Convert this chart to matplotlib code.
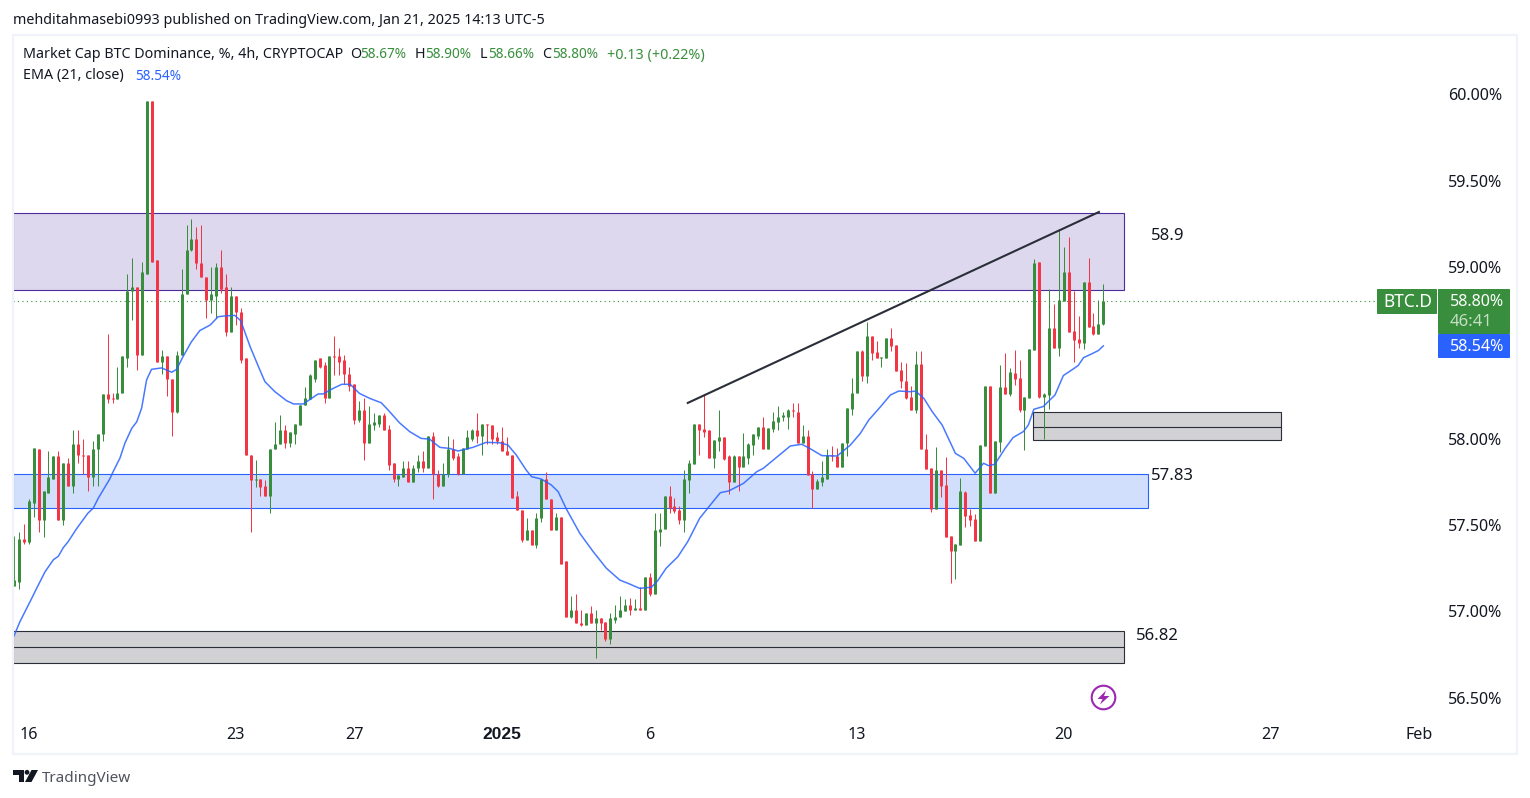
import matplotlib
matplotlib.use('Agg')
import matplotlib.pyplot as plt
from matplotlib.patches import Rectangle, Polygon, Circle, FancyBboxPatch

plt.rcParams['font.family'] = ['Noto Sans', 'DejaVu Sans']

# 4h candles, one row of ten per line
bar_open = [
    57.15, 57.17, 57.42, 57.40, 57.63, 57.94, 57.53, 57.69, 57.77, 57.90,
    57.53, 57.86, 57.73, 57.97, 57.91, 57.91, 57.78, 57.94, 58.03, 58.26,
    58.24, 58.23, 58.27, 58.47, 58.86, 58.88, 58.49, 58.96, 59.96, 59.04,
    58.45, 58.48, 58.35, 58.16, 58.49, 58.84, 59.10, 59.16, 59.02, 58.94,
    58.81, 58.83, 59.00, 58.88, 58.62, 58.83, 58.74, 58.47, 57.91, 57.76,
    57.77, 57.73, 57.67, 57.94, 57.97, 58.05, 57.98, 58.03, 58.08, 58.20,
    58.23, 58.35, 58.47, 58.43, 58.24, 58.48, 58.48, 58.46, 58.38, 58.32,
    58.11, 58.17, 57.98, 58.08, 58.09, 58.14, 58.06, 57.86, 57.77, 57.78,
    57.83, 57.75, 57.83, 57.87, 57.83, 58.02, 57.80, 57.73, 57.80, 57.94,
    57.90, 57.80, 57.94, 58.00, 58.05, 58.02, 58.09, 58.08, 58.01, 57.99,
    57.93, 57.91, 57.67, 57.59, 57.415, 57.47, 57.385, 57.54, 57.77, 57.65,
    57.47, 57.55, 57.29, 56.97, 57.01, 56.93, 56.92, 56.99, 56.93, 56.96,
    56.94, 56.84, 56.95, 56.97, 57.00, 57.04, 57.01, 57.02, 57.01, 57.20,
    57.10, 57.46, 57.48, 57.67, 57.61, 57.59, 57.53, 57.76, 57.855, 58.09,
    58.06, 58.05, 57.89, 57.99, 58.01, 57.90, 57.75, 57.90, 57.84, 57.89,
    57.965, 58.02, 58.07, 57.94, 58.06, 58.10, 58.13, 58.13, 58.17, 58.16,
    57.98, 58.02, 57.80, 57.71, 57.75, 57.77, 57.91, 57.90, 57.84, 57.977,
    58.175, 58.27, 58.51, 58.366, 58.60, 58.505, 58.47, 58.47, 58.587, 58.546,
    58.40, 58.34, 58.244, 58.169, 58.436, 57.942, 57.832, 57.594, 57.82, 57.734,
    57.437, 57.35, 57.385, 57.693, 57.56, 57.536, 57.408, 57.96, 58.308, 57.687,
    57.984, 58.303, 58.262, 58.384, 58.355, 58.17, 58.239, 58.518, 59.028, 58.245,
    58.256, 58.645, 58.53, 58.802, 58.97, 58.628, 58.581, 58.558, 58.912, 58.657,
    58.61, 58.67,
]
bar_high = [
    57.44, 57.46, 57.51, 57.65, 57.95, 57.94, 57.70, 57.93, 57.90, 57.93,
    57.86, 57.89, 58.05, 58.05, 58.00, 57.91, 57.99, 58.03, 58.26, 58.61,
    58.27, 58.42, 58.48, 58.96, 59.05, 58.88, 59.03, 59.96, 59.96, 59.04,
    58.52, 58.48, 58.35, 58.51, 58.99, 59.24, 59.28, 59.23, 59.24, 58.94,
    59.00, 59.02, 59.10, 58.96, 58.88, 58.83, 58.76, 58.47, 57.91, 57.88,
    57.77, 57.76, 57.94, 58.10, 58.14, 58.08, 58.04, 58.09, 58.20, 58.30,
    58.38, 58.46, 58.47, 58.45, 58.48, 58.60, 58.53, 58.49, 58.42, 58.32,
    58.22, 58.24, 58.19, 58.15, 58.14, 58.15, 58.08, 57.86, 57.79, 57.87,
    57.87, 57.85, 57.91, 57.93, 58.02, 58.04, 57.82, 57.86, 58.02, 58.00,
    57.92, 57.95, 58.05, 58.06, 58.15, 58.09, 58.09, 58.08, 58.04, 58.07,
    58.01, 57.91, 57.70, 57.59, 57.54, 57.47, 57.57, 57.77, 57.81, 57.65,
    57.57, 57.55, 57.29, 57.09, 57.10, 57.01, 56.99, 57.03, 57.01, 56.96,
    56.94, 56.99, 57.04, 57.09, 57.07, 57.08, 57.07, 57.14, 57.20, 57.22,
    57.57, 57.57, 57.67, 57.73, 57.66, 57.61, 57.82, 57.88, 58.09, 58.09,
    58.26, 58.05, 57.995, 58.17, 58.01, 57.91, 57.91, 57.90, 58.035, 57.98,
    58.03, 58.07, 58.13, 58.064, 58.16, 58.19, 58.16, 58.175, 58.21, 58.21,
    58.08, 58.05, 57.815, 57.77, 57.87, 57.94, 57.96, 57.95, 57.98, 58.18,
    58.354, 58.51, 58.52, 58.68, 58.60, 58.57, 58.476, 58.587, 58.645, 58.546,
    58.45, 58.44, 58.308, 58.511, 58.511, 58.03, 57.832, 57.954, 57.82, 57.896,
    57.437, 57.39, 57.774, 57.699, 57.594, 57.565, 57.966, 58.308, 58.308, 57.989,
    58.43, 58.50, 58.413, 58.518, 58.46, 58.245, 58.523, 59.046, 59.028, 58.268,
    58.872, 58.785, 59.22, 59.115, 59.173, 58.86, 58.715, 58.912, 59.05, 58.732,
    58.808, 58.90,
]
bar_low = [
    57.15, 57.13, 57.39, 57.39, 57.55, 57.46, 57.43, 57.69, 57.77, 57.53,
    57.50, 57.73, 57.69, 57.86, 57.80, 57.70, 57.73, 57.73, 57.99, 58.21,
    58.21, 58.23, 58.27, 58.42, 58.69, 58.40, 58.49, 58.96, 59.03, 58.45,
    58.38, 58.25, 58.02, 58.15, 58.49, 58.84, 59.09, 58.99, 58.94, 58.70,
    58.73, 58.70, 58.85, 58.60, 58.62, 58.66, 58.44, 57.91, 57.46, 57.72,
    57.67, 57.67, 57.57, 57.94, 57.97, 57.95, 57.955, 57.97, 58.08, 58.20,
    58.23, 58.33, 58.41, 58.21, 58.24, 58.37, 58.37, 58.32, 58.28, 58.09,
    58.10, 57.88, 57.98, 58.05, 58.07, 58.05, 57.82, 57.75, 57.73, 57.78,
    57.75, 57.75, 57.81, 57.81, 57.83, 57.65, 57.72, 57.73, 57.78, 57.88,
    57.79, 57.80, 57.94, 57.99, 57.98, 57.91, 57.97, 57.97, 57.97, 57.93,
    57.91, 57.66, 57.59, 57.40, 57.415, 57.385, 57.37, 57.52, 57.65, 57.47,
    57.47, 57.275, 56.97, 56.96, 56.93, 56.915, 56.92, 56.93, 56.73, 56.89,
    56.83, 56.81, 56.93, 56.97, 57.00, 56.98, 57.01, 57.01, 57.01, 57.09,
    57.10, 57.38, 57.48, 57.57, 57.57, 57.51, 57.46, 57.69, 57.855, 57.91,
    58.01, 57.89, 57.83, 57.93, 57.88, 57.68, 57.75, 57.70, 57.84, 57.855,
    57.91, 58.00, 57.94, 57.94, 58.04, 58.05, 58.105, 58.06, 58.13, 57.98,
    57.98, 57.79, 57.60, 57.71, 57.73, 57.77, 57.87, 57.84, 57.84, 57.90,
    58.14, 58.27, 58.34, 58.325, 58.46, 58.47, 58.42, 58.47, 58.51, 58.395,
    58.296, 58.23, 58.169, 58.15, 57.942, 57.826, 57.577, 57.594, 57.664, 57.432,
    57.165, 57.188, 57.385, 57.49, 57.496, 57.408, 57.408, 57.96, 57.687, 57.687,
    57.926, 58.262, 58.25, 58.315, 58.158, 57.937, 58.239, 58.518, 58.239, 58.00,
    58.175, 58.53, 58.483, 58.802, 58.622, 58.448, 58.529, 58.523, 58.651, 58.605,
    58.61, 58.66,
]
bar_close = [
    57.18, 57.42, 57.40, 57.64, 57.95, 57.53, 57.70, 57.78, 57.90, 57.53,
    57.86, 57.73, 57.97, 57.91, 57.90, 57.78, 57.94, 58.03, 58.26, 58.23,
    58.23, 58.27, 58.48, 58.86, 58.88, 58.49, 58.97, 59.96, 59.03, 58.45,
    58.48, 58.35, 58.16, 58.49, 58.84, 59.10, 59.16, 59.02, 58.94, 58.81,
    58.84, 59.00, 58.87, 58.62, 58.83, 58.74, 58.46, 57.91, 57.76, 57.77,
    57.72, 57.67, 57.94, 57.97, 58.05, 57.98, 58.04, 58.09, 58.20, 58.24,
    58.37, 58.46, 58.42, 58.24, 58.48, 58.475, 58.45, 58.38, 58.31, 58.11,
    58.17, 57.98, 58.09, 58.10, 58.14, 58.05, 57.85, 57.77, 57.79, 57.83,
    57.75, 57.83, 57.87, 57.83, 58.02, 57.80, 57.73, 57.80, 57.94, 57.89,
    57.80, 57.95, 58.01, 58.05, 58.02, 58.09, 58.08, 58.00, 57.99, 57.93,
    57.91, 57.66, 57.59, 57.415, 57.47, 57.385, 57.54, 57.77, 57.65, 57.47,
    57.55, 57.275, 56.97, 57.01, 56.93, 56.92, 56.99, 56.93, 56.96, 56.93,
    56.84, 56.96, 56.97, 57.01, 57.04, 57.01, 57.02, 57.01, 57.20, 57.10,
    57.47, 57.48, 57.67, 57.60, 57.58, 57.53, 57.77, 57.86, 58.09, 58.05,
    58.04, 57.89, 57.995, 58.01, 57.885, 57.75, 57.90, 57.84, 57.90, 57.97,
    58.03, 58.07, 57.94, 58.064, 58.105, 58.13, 58.14, 58.17, 58.165, 57.98,
    58.018, 57.79, 57.71, 57.755, 57.78, 57.91, 57.90, 57.84, 57.98, 58.18,
    58.27, 58.51, 58.366, 58.60, 58.50, 58.47, 58.476, 58.587, 58.54, 58.395,
    58.337, 58.238, 58.169, 58.436, 57.942, 57.826, 57.594, 57.82, 57.728, 57.432,
    57.35, 57.39, 57.699, 57.553, 57.53, 57.408, 57.966, 58.308, 57.687, 57.989,
    58.303, 58.262, 58.39, 58.349, 58.17, 58.245, 58.523, 59.022, 58.245, 58.262,
    58.645, 58.53, 58.808, 58.97, 58.622, 58.576, 58.558, 58.912, 58.651, 58.61,
    58.668, 58.80,
]

# EMA(21) read at the bends of the line: bar number and value
ema_bar = [
    0, 1.2, 3.6, 4.6, 6.3, 8, 9, 10, 11, 12.7, 15, 16.1, 17.1, 19.4, 20.1, 21.5,
    22.5, 23.9, 24.9, 25.9, 26.9, 27.9, 29.95, 32, 33, 34.3, 36, 37.7, 39.8, 41.4,
    42.8, 44.8, 46, 47.9, 49.9, 50.9, 52.9, 55.3, 56.7, 58.7, 60.4, 61.7, 62.7,
    64.8, 66.5, 68.2, 70.1, 72.2, 74.5, 75.9, 78.2, 80.3, 82.6, 84.3, 86.4, 88.4,
    90.1, 93.1, 95.8, 98.5, 100.2, 101.9, 103.9, 105, 107, 109, 110.4, 112, 114.8,
    117.5, 120.2, 122.9, 124.9, 126.9, 129.3, 130.6, 132.3, 134.7, 136.7, 139.1,
    141, 143.3, 145, 148, 150.7, 152, 157.5, 159.8, 161.2, 163.9, 167, 169.7,
    171.7, 173.4, 175.8, 177.8, 179.5, 181.9, 182.9, 184.6, 186.3, 188.3, 191,
    192.7, 195, 196.7, 197.7, 199, 201.1, 202.7, 204.8, 205.8, 206.9, 208.8,
    211.2, 212.9, 214.9, 215.9, 217, 218.6, 220, 221,
]
ema_value = [
    56.857, 56.94, 57.076, 57.134, 57.23, 57.30, 57.32, 57.37, 57.405, 57.48, 57.57, 57.60,
    57.657, 57.767, 57.81, 57.89, 57.976, 58.063, 58.10, 58.18, 58.343, 58.405, 58.413,
    58.388, 58.405, 58.479, 58.565, 58.63, 58.662, 58.71, 58.715, 58.718, 58.687, 58.537,
    58.40, 58.334, 58.276, 58.223, 58.204, 58.204, 58.237, 58.262, 58.262, 58.295, 58.318,
    58.318, 58.265, 58.236, 58.211, 58.169, 58.095, 58.043, 58.004, 58.0, 57.952, 57.946,
    57.931, 57.952, 57.981, 57.979, 57.966, 57.908, 57.821, 57.782, 57.768, 57.734, 57.695,
    57.598, 57.453, 57.347, 57.25, 57.182, 57.159, 57.134, 57.14, 57.178, 57.25, 57.318,
    57.405, 57.54, 57.608, 57.689, 57.699, 57.743, 57.811, 57.83, 57.96, 57.97, 57.95,
    57.904, 57.902, 57.966, 58.033, 58.11, 58.188, 58.256, 58.279, 58.275, 58.279, 58.236,
    58.159, 58.082, 57.917, 57.888, 57.802, 57.86, 57.846, 57.854, 57.947, 58.009, 58.044,
    58.082, 58.173, 58.189, 58.256, 58.369, 58.407, 58.427, 58.473, 58.494, 58.514, 58.541,
]

# drawn zones: first bar, last bar, low, high
zone_purple = (-0.2, 225.2, 58.868, 59.312)
zone_blue = (-0.2, 230.1, 57.603, 57.80)
zone_grey_low = (-0.2, 225.2, 56.70, 56.889)
zone_grey_mid = 56.793
zone_grey_small = (206.7, 257, 57.992, 58.157)
zone_grey_small_mid = 58.073
trend_bars = [136.7, 220.1]
trend_values = [58.21, 59.318]

price_ticks = [56.5, 57.0, 57.5, 58.0, 58.5, 59.0, 59.5, 60.0]
price_labels = ['56.50%', '57.00%', '57.50%', '58.00%', '', '59.00%', '59.50%', '60.00%']
day_ticks = [3, 45, 69, 99, 129, 171, 213, 255, 285]
day_labels = ['16', '23', '27', '2025', '6', '13', '20', '27', 'Feb']
last_close = 58.80

UP = '#388e3c'
DOWN = '#f23645'
BLUE = '#2962ff'
INK = '#131722'
W, H = 1530, 798


def fx(px):
    return px / W


def fy(py):
    return 1 - py / H


fig = plt.figure(figsize=(W / 100, H / 100), dpi=100)
fig.patch.set_facecolor('white')

# outer panel frame
fig.add_artist(Rectangle((fx(13), fy(753.5)), (1517 - 13) / W, (753.5 - 34.5) / H,
                         transform=fig.transFigure, fill=False, ec='#f0f3fa', lw=1.6))

ax = fig.add_axes([fx(13), fy(717), (1437 - 13) / W, (717 - 36) / H])
ax.set_xlim(-0.2, 288.7)
ax.set_ylim(60 - (717 - 94.5) / 172.3, 60 + (94.5 - 36) / 172.3)
ax.patch.set_alpha(0)
for s in ax.spines.values():
    s.set_visible(False)


def zone(z, fc, ec):
    x0, x1, lo, hi = z
    ax.add_patch(Rectangle((x0, lo), x1 - x0, hi - lo, fc=fc, ec=ec, lw=0.8, zorder=1))


zone(zone_purple, '#ddd8ee', '#4a2c9c')
zone(zone_blue, '#d1dffd', BLUE)
zone(zone_grey_low, '#d2d2d5', '#2a2e39')
zone(zone_grey_small, '#d2d2d5', '#2a2e39')
ax.plot(zone_grey_low[:2], [zone_grey_mid] * 2, color='#2a2e39', lw=0.8, zorder=1.5)
ax.plot(zone_grey_small[:2], [zone_grey_small_mid] * 2, color='#2a2e39', lw=0.8, zorder=1.5)

ax.axhline(last_close, color=UP, lw=0.8, ls=(0, (1, 3)), zorder=1.8)

bars = range(len(bar_open))
colors = [UP if c >= o else DOWN for o, c in zip(bar_open, bar_close)]
ax.vlines(bars, bar_low, bar_high, colors=colors, lw=0.72, zorder=3)
# bodies as thick vertical lines so every one keeps the same pixel width
ax.vlines(bars, [min(o, c) for o, c in zip(bar_open, bar_close)],
          [max(o, c) for o, c in zip(bar_open, bar_close)],
          colors=colors, lw=2.16, capstyle='butt', zorder=3)

ax.plot(ema_bar, ema_value, color=BLUE, lw=1.1, alpha=0.85, zorder=4)
ax.plot(trend_bars, trend_values, color='#2a2e39', lw=1.5, zorder=5)

ax.text(230.7, 59.18, '58.9', fontsize=12, color=INK, va='center')
ax.text(230.7, 57.785, '57.83', fontsize=12, color=INK, va='center')
ax.text(227.7, 56.855, '56.82', fontsize=12, color=INK, va='center')

ax.yaxis.tick_right()
ax.set_yticks(price_ticks)
ax.set_yticklabels(price_labels, fontsize=11.6, color=INK)
ax.set_xticks(day_ticks)
ax.set_xticklabels(day_labels, fontsize=11.6, color=INK)
year_label = ax.get_xticklabels()[3]
year_label.set_fontfamily('Liberation Sans')
year_label.set_fontweight('bold')
year_label.set_fontsize(12.5)
ax.tick_params(axis='y', length=0, pad=8)
ax.tick_params(axis='x', length=0, pad=7)

# header
fig.text(fx(13), fy(20), 'mehditahmasebi0993 published on TradingView.com, Jan 21, 2025 14:13 UTC-5',
         fontsize=10.3, color=INK, va='center')
header = [
    (23, 'Market Cap BTC Dominance, %, 4h, CRYPTOCAP', INK, 10.3),
    (350, 'O', INK, 10.3), (360, '58.67%', UP, 9.8),
    (415, 'H', INK, 10.3), (425, '58.90%', UP, 9.8),
    (480, 'L', INK, 10.3), (488, '58.66%', UP, 9.8),
    (542, 'C', INK, 10.3), (552, '58.80%', UP, 9.8),
    (607, '+0.13 (+0.22%)', UP, 10.3),
]
for px, txt, col, size in header:
    fig.text(fx(px), fy(55), txt, fontsize=size, color=col, va='center')
fig.text(fx(23), fy(76), 'EMA (21, close)', fontsize=10.3, color=INK, va='center')
fig.text(fx(135), fy(76), '58.54%', fontsize=9.8, color=BLUE, va='center')


def label_box(x0, y0, x1, y1, col):
    fig.add_artist(FancyBboxPatch((fx(x0), fy(y1)), (x1 - x0) / W, (y1 - y0) / H,
                                  boxstyle='round,pad=0,rounding_size=0.001',
                                  transform=fig.transFigure, fc=col, ec='none', mutation_aspect=H / W))


label_box(1377, 289, 1437, 314, UP)
label_box(1438, 289, 1510, 334, UP)
label_box(1438, 334, 1510, 358, BLUE)
fig.text(fx(1407.5), fy(302), 'BTC.D', fontsize=12.5, color='white', ha='center', va='center')
fig.text(fx(1504), fy(302), '58.80%', fontsize=11.6, color='white', ha='right', va='center')
fig.text(fx(1450), fy(322), '46:41', fontsize=12, color='#c6dec8', ha='left', va='center')
fig.text(fx(1504), fy(347), '58.54%', fontsize=11.6, color='white', ha='right', va='center')

# lightning badge
badge = fig.add_axes([fx(1090), fy(711), 27 / W, 27 / H])
badge.set_xlim(-13.5, 13.5)
badge.set_ylim(13.5, -13.5)
badge.axis('off')
badge.add_patch(Circle((0, 0), 11.8, fill=False, ec='#9c27b0', lw=1.5))
badge.add_patch(Polygon([(2.5, -7), (-6, 1.5), (-1, 1.5), (-3.5, 7), (6, -1.5), (0.5, -1.5)], fc='#9c27b0', ec='none'))
badge.set_aspect('equal')

# TradingView logo
logo = fig.add_axes([fx(13), fy(783), 26 / W, 14 / H])
logo.set_xlim(13, 39)
logo.set_ylim(783, 769)
logo.axis('off')
logo.add_patch(Polygon([(13, 770), (24, 770), (24, 782), (19, 782), (19, 775), (13, 775)], fc=INK, ec='none'))
logo.add_patch(Circle((27, 772.3), 2.4, fc=INK, ec='none'))
logo.add_patch(Polygon([(31.5, 770), (38, 770), (31.5, 782), (25, 782)], fc=INK, ec='none'))
fig.text(fx(42), fy(778), 'TradingView', fontsize=11, color='#50535e', va='center')

fig.savefig('out.png', dpi=100)
